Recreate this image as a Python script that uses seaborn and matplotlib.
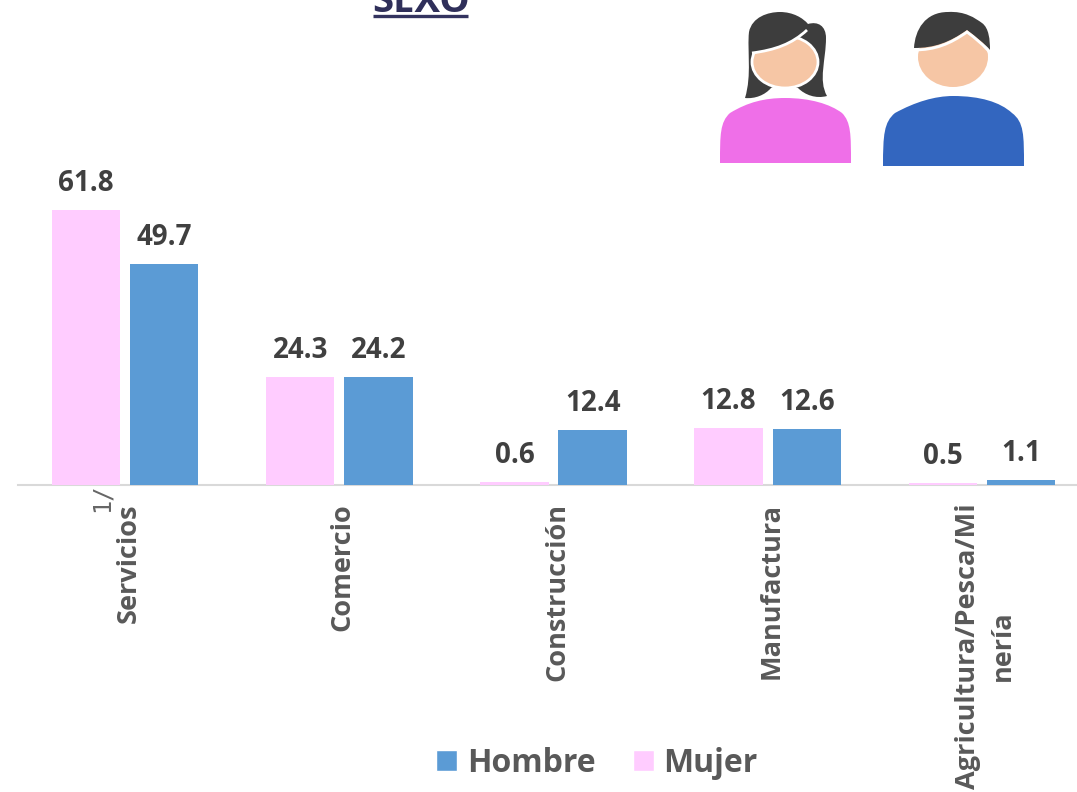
import numpy as np
import pandas as pd
import matplotlib

matplotlib.use("Agg")
import matplotlib.pyplot as plt
from matplotlib.patches import Ellipse, PathPatch, Patch
from matplotlib.path import Path
from matplotlib.transforms import ScaledTranslation
import seaborn as sns

W, H = 1077, 792

categories = ["Servicios", "Comercio", "Construcción", "Manufactura", "Agricultura/Pesca/Mi\nnería"]
mujer = [61.8, 24.3, 0.6, 12.8, 0.5]
hombre = [49.7, 24.2, 12.4, 12.6, 1.1]
PINK = "#FFCCFF"
BLUE = "#5B9BD5"

sns.set_theme(style="white")
plt.rcParams["font.family"] = ["Open Sans", "DejaVu Sans"]

df = pd.DataFrame(
    {
        "cat": categories * 2,
        "sexo": ["Mujer"] * 5 + ["Hombre"] * 5,
        "valor": mujer + hombre,
    }
)

fig = plt.figure(figsize=(W / 100, H / 100), dpi=100)
# axes runs past the right edge, the reference is cropped there
ax = fig.add_axes([18 / W, 1 - 485 / H, 1071 / W, 300 / H])
sns.barplot(
    data=df,
    x="cat",
    y="valor",
    hue="sexo",
    hue_order=["Mujer", "Hombre"],
    palette={"Mujer": PINK, "Hombre": BLUE},
    width=0.73,
    gap=0.127,
    saturation=1,
    errorbar=None,
    legend=False,
    linewidth=0,
    ax=ax,
)
ax.set_xlim(-0.5, 4.5)
ax.set_ylim(0, 300 / 4.45)
ax.set_xlabel("")
ax.set_ylabel("")
ax.set_yticks([])
sns.despine(ax=ax, left=True)
ax.spines["bottom"].set_color("#D9D9D9")
ax.spines["bottom"].set_linewidth(1.5)
ax.spines["bottom"].set_zorder(0.5)  # small pink bars sit on top of the line

for cont in ax.containers:
    ax.bar_label(cont, fmt="%.1f", padding=8.7, fontsize=20, fontweight="bold", color="#404040")

ax.set_xticks(range(5))
ax.set_xticklabels(categories, rotation=90, fontsize=19.5, fontweight="bold", color="#595959",
                   ha="center", va="top", multialignment="center", linespacing=1.43)
ax.tick_params(axis="x", length=0, pad=13)
nudge = ScaledTranslation(3.5 / 100, 0, fig.dpi_scale_trans)
for lab in ax.get_xticklabels():
    lab.set_transform(lab.get_transform() + nudge)

# overlay in pixel coordinates for the title, footnote mark and the icons
over = fig.add_axes([0, 0, 1, 1], zorder=5)
over.set_xlim(0, W)
over.set_ylim(H, 0)
over.axis("off")
over.patch.set_alpha(0)

over.text(421, 12, "SEXO", fontsize=27.5, fontweight="bold", color="#2F2F5A", ha="center", va="baseline")
over.plot([373, 468], [15.7, 15.7], color="#33335F", lw=2.4, solid_capstyle="butt")
over.text(102, 498, "1/", fontsize=17, color="#666666", rotation=90, ha="center", va="center",
          family="DejaVu Sans Mono")


def curve(start, segs, color, z=6, stroke=False):
    verts = [start]
    codes = [Path.MOVETO]
    for s in segs:
        verts += s
        codes += [Path.LINETO] if len(s) == 1 else [Path.CURVE4] * 3
    if stroke:
        patch = PathPatch(Path(verts, codes), fc="none", ec=color, lw=2, zorder=z)
    else:
        patch = PathPatch(Path(verts, codes), fc=color, ec="none", zorder=z)
    over.add_patch(patch)


DARK = "#3D3D3D"
SKIN = "#F6C6A5"

# woman
curve((745, 98), [[(752, 75), (747, 50), (749, 32)], [(752, 17), (768, 12), (780, 12)],
                  [(793, 12), (803, 18), (808, 24)], [(818, 21), (826, 26), (826, 38)],
                  [(826, 60), (818, 80), (827, 96)], [(816, 99), (805, 95), (798, 88)],
                  [(785, 85), (775, 85), (771, 88)], [(765, 95), (755, 99), (745, 98)]], DARK)
over.add_patch(Ellipse((785, 62), 66, 52, fc=SKIN, ec="white", lw=2, zorder=7))
curve((752, 53), [[(775, 50), (792, 44), (807, 30)], [(812, 22), (770, 18), (752, 30)], [(752, 53)]], DARK, z=8)
curve((752, 53), [[(775, 50), (792, 44), (807, 30)]], "white", z=9, stroke=True)
curve((720, 163), [[(720, 135), (720, 122), (730, 113)], [(748, 102), (765, 98), (785, 98)],
                   [(810, 98), (830, 104), (842, 113)], [(851, 122), (851, 135), (851, 163)], [(720, 163)]], "#EF6FE8")

# man
over.add_patch(Ellipse((953, 57), 70, 60, fc=SKIN, ec="none", zorder=6))
curve((914, 48), [[(915, 30), (925, 12), (948, 12)], [(965, 11), (975, 18), (982, 23)],
                  [(989, 28), (990, 40), (990, 50)], [(985, 44), (975, 36), (967, 30)],
                  [(950, 42), (935, 48), (914, 48)]], DARK, z=8)
curve((914, 50), [[(935, 50), (950, 44), (967, 32)], [(975, 38), (985, 46), (990, 53)]], "white", z=9, stroke=True)
curve((883, 166), [[(883, 135), (884, 122), (895, 113)], [(915, 102), (935, 96), (953, 96)],
                   [(980, 96), (1000, 102), (1012, 113)], [(1024, 122), (1024, 135), (1024, 166)], [(883, 166)]], "#3366BF")

handles = [Patch(fc=BLUE, label="Hombre"), Patch(fc=PINK, label="Mujer")]
fig.legend(
    handles=handles,
    loc="center",
    bbox_to_anchor=(597 / W, 1 - 763 / H),
    ncol=2,
    frameon=False,
    prop={"size": 23, "weight": "bold"},
    labelcolor="#595959",
    handlelength=0.65,
    handleheight=0.65,
    handletextpad=0.3,
    columnspacing=1.18,
)

fig.savefig("out.png", dpi=100)
